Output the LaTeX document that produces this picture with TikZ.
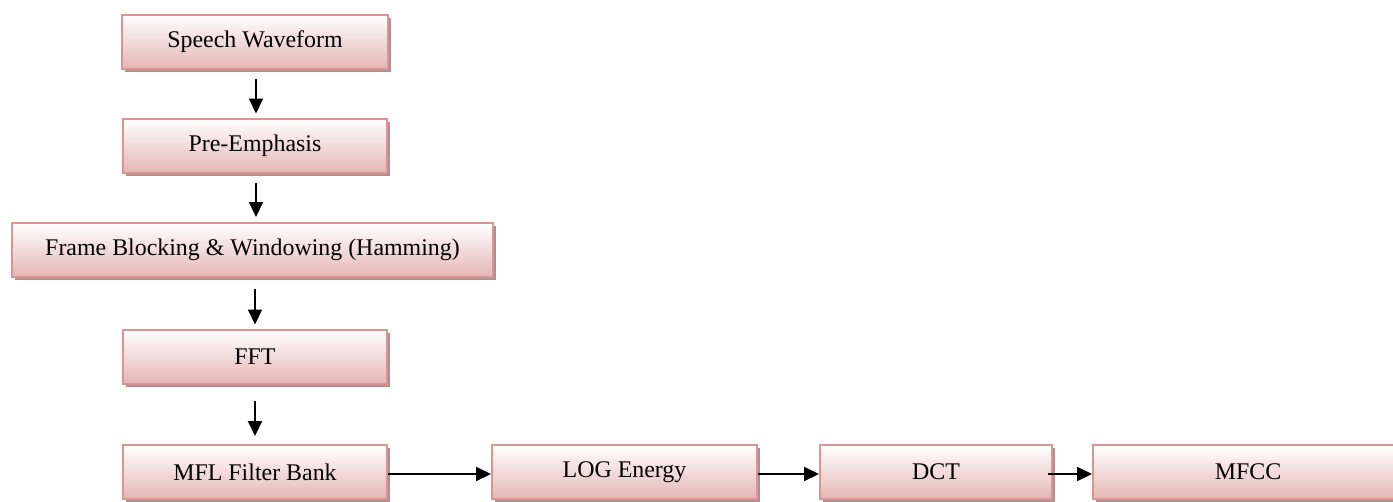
\documentclass[tikz,border=0pt]{standalone}
\usepackage{fontspec}
\setmainfont{Liberation Serif}
\usetikzlibrary{arrows.meta,shadows}
\definecolor{boxborder}{RGB}{217,149,148}
\definecolor{boxbot}{RGB}{229,182,181}
\definecolor{shadowc}{RGB}{180,142,142}
\begin{document}
\begin{tikzpicture}[x=1pt,y=-1pt,
  stage/.style={draw=boxborder, line width=2pt, top color=white, bottom color=boxbot,
    minimum height=54pt, inner sep=0pt, anchor=center,
    font=\fontsize{23.9}{28}\selectfont,
    drop shadow={shadow xshift=3pt, shadow yshift=-3pt, fill=shadowc, opacity=1}},
  arr/.style={line width=2pt, -{Triangle[length=15pt,width=14pt]}}]
\useasboundingbox (0,0) rectangle (1393,501);
\clip (0,0) rectangle (1393,501);
\node[stage, minimum width=266pt] (sw)  at (255,41.5)  {Speech Waveform};
\node[stage, minimum width=264pt] (pe)  at (255,145.5) {Pre-Emphasis};
\node[stage, minimum width=481pt] (fb)  at (252.5,250) {Frame Blocking \& Windowing (Hamming)};
\node[stage, minimum width=264pt] (fft) at (255,356.5) {FFT};
\node[stage, minimum width=264pt] (mfl) at (255,472)   {MFL Filter Bank};
\node[stage, minimum width=265pt] (log) at (624.5,472) {LOG Energy};
\node[stage, minimum width=232pt] (dct) at (936,472)   {DCT};
\node[stage, minimum width=310pt] (mfcc) at (1248,472) {MFCC};
\draw[arr] ([yshift=-9pt,xshift=1pt]sw.south) -- ([yshift=4pt,xshift=1pt]pe.north);
\draw[arr] ([yshift=-9pt,xshift=1pt]pe.south) -- ([yshift=5pt,xshift=1pt]fb.north -| pe.north);
\draw[arr] ([yshift=-11pt]fb.south -| fft.north) -- ([yshift=4pt]fft.north);
\draw[arr] ([yshift=-16pt]fft.south) -- ([yshift=8pt]mfl.north);
\draw[arr] ([yshift=-2pt]mfl.east) -- ([yshift=-2pt]log.west);
\draw[arr] ([yshift=-2pt]log.east) -- ([yshift=-2pt]dct.west);
\draw[arr] ([yshift=-2pt,xshift=-5pt]dct.east) -- ([yshift=-2pt]mfcc.west);
\end{tikzpicture}
\end{document}
